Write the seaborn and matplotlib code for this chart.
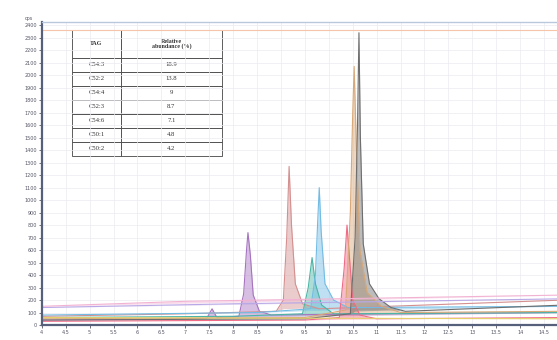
import numpy as np
import pandas as pd
import matplotlib
matplotlib.use("Agg")
import matplotlib.pyplot as plt
import seaborn as sns

# retention time (min) / intensity, one list pair per trace
purple_t = [4.0, 6.0, 7.45, 7.56, 7.66, 8.12, 8.22, 8.28, 8.31, 8.36, 8.42, 8.55, 8.8, 11.0, 14.9]
purple_i = [40, 45, 55, 130, 60, 70, 250, 600, 740, 560, 240, 110, 80, 90, 100]

rose_t = [4.0, 7.0, 8.9, 9.05, 9.12, 9.17, 9.22, 9.3, 9.45, 9.8, 12.0, 14.9]
rose_i = [70, 90, 110, 200, 700, 1270, 800, 330, 170, 130, 160, 200]

teal_t = [4.0, 8.0, 9.45, 9.57, 9.65, 9.72, 9.85, 10.1, 14.9]
teal_i = [60, 70, 90, 300, 540, 330, 160, 90, 100]

blue_t = [4.0, 8.5, 9.62, 9.72, 9.77, 9.8, 9.84, 9.92, 10.1, 10.4, 14.9]
blue_i = [80, 100, 130, 400, 850, 1100, 750, 330, 200, 140, 150]

red_t = [4.0, 9.5, 10.22, 10.32, 10.38, 10.44, 10.5, 10.65, 11.0, 14.9]
red_i = [30, 40, 60, 450, 800, 500, 200, 80, 50, 60]

tan_t = [4.0, 9.5, 10.35, 10.45, 10.5, 10.53, 10.57, 10.65, 10.8, 11.1, 11.5, 14.9]
tan_i = [50, 60, 120, 900, 1700, 2070, 1500, 600, 260, 150, 100, 110]

grey_t = [4.0, 9.5, 10.45, 10.55, 10.6, 10.63, 10.66, 10.72, 10.85, 11.05, 11.3, 11.6, 14.9]
grey_i = [40, 50, 90, 700, 1600, 2340, 1500, 650, 330, 210, 140, 110, 160]

yellow_t = [4.0, 9.0, 14.9]
yellow_i = [60, 55, 50]
lavender_t = [4.0, 8.0, 14.9]
lavender_i = [140, 170, 210]
pink_t = [4.0, 7.0, 14.9]
pink_i = [150, 190, 240]

tag = ["C54:3", "C52:2", "C54:4", "C52:3", "C54:6", "C50:1", "C50:2"]
abundance = ["18.9", "13.8", "9", "8.7", "7.1", "4.8", "4.2"]

x_ticks = np.arange(4.0, 14.75, 0.5)
y_ticks = np.arange(0, 2401, 100)

traces = {
    "purple": (purple_t, purple_i, "#a673bf"),
    "rose": (rose_t, rose_i, "#d48f8f"),
    "teal": (teal_t, teal_i, "#4cb5a5"),
    "blue": (blue_t, blue_i, "#72bce4"),
    "red": (red_t, red_i, "#f06a86"),
    "tan": (tan_t, tan_i, "#d8a878"),
    "grey": (grey_t, grey_i, "#6e6e6e"),
    "yellow": (yellow_t, yellow_i, "#e6cf6a"),
    "lavender": (lavender_t, lavender_i, "#b9a8e6"),
    "pink": (pink_t, pink_i, "#f2b3d3"),
}

df = pd.concat([pd.DataFrame({"time": t, "intensity": i, "trace": name})
                for name, (t, i, c) in traces.items()], ignore_index=True)
palette = {name: c for name, (t, i, c) in traces.items()}

sns.set_theme(style="white")
fig = plt.figure(figsize=(5.57, 3.4), dpi=100)
ax = fig.add_axes([0.075, 0.044, 0.925, 0.891])

sns.lineplot(data=df, x="time", y="intensity", hue="trace", palette=palette,
             linewidth=0.8, legend=False, ax=ax, sort=False)

# shade the peaks above each trace's own drifting baseline
for name, (t, i, c) in traces.items():
    t = np.array(t, dtype=float)
    i = np.array(i, dtype=float)
    base = np.minimum(i, np.interp(t, [t[0], t[-1]], [i[0], i[-1]]))
    ax.fill_between(t, i, base, color=c, alpha=0.45, linewidth=0)

# pale reference line near the top
ax.axhline(2365, color="#f6c4a8", linewidth=0.8)

ax.set_xlim(4.0, 14.77)
ax.set_ylim(0, 2425)
ax.set_xticks(x_ticks)
ax.set_xticklabels([f"{v:g}" for v in x_ticks])
ax.set_yticks(y_ticks)
ax.set_yticklabels([f"{v:g}" for v in y_ticks])
ax.tick_params(axis="both", labelsize=3.5, length=2, width=0.6, pad=1.5,
               colors="#555566", left=True, bottom=True)
ax.grid(True, color="#ebebf2", linewidth=0.5)
ax.set_xlabel("")
ax.set_ylabel("")

for side in ["left", "bottom"]:
    ax.spines[side].set_color("#56607a")
    ax.spines[side].set_linewidth(1.6)
ax.spines["top"].set_color("#b9c8dc")
ax.spines["top"].set_linewidth(1.0)
ax.spines["right"].set_visible(False)

fig.text(0.045, 0.94, "cps", fontsize=3.5, color="#555566")

# inset table with relative abundance
cells = [[a, b] for a, b in zip(tag, abundance)]
table = ax.table(cellText=cells, colLabels=["TAG", "Relative\nabundance (%)"],
                 cellLoc="center", colWidths=[0.33, 0.67],
                 bbox=[0.058, 0.558, 0.291, 0.416])
table.auto_set_font_size(False)
for (r, c), cell in table.get_celld().items():
    cell.set_linewidth(0.6)
    cell.set_edgecolor("#444444")
    cell.set_facecolor("white")
    cell.set_height(0.2 if r == 0 else 0.1)
    txt = cell.get_text()
    txt.set_fontfamily("Liberation Serif")
    txt.set_fontsize(4.8)
    txt.set_color("#333333")
    if r == 0:
        txt.set_fontweight("bold")
        txt.set_fontsize(4.3)
        txt.set_linespacing(1.0)

fig.savefig("out.png", dpi=100)
